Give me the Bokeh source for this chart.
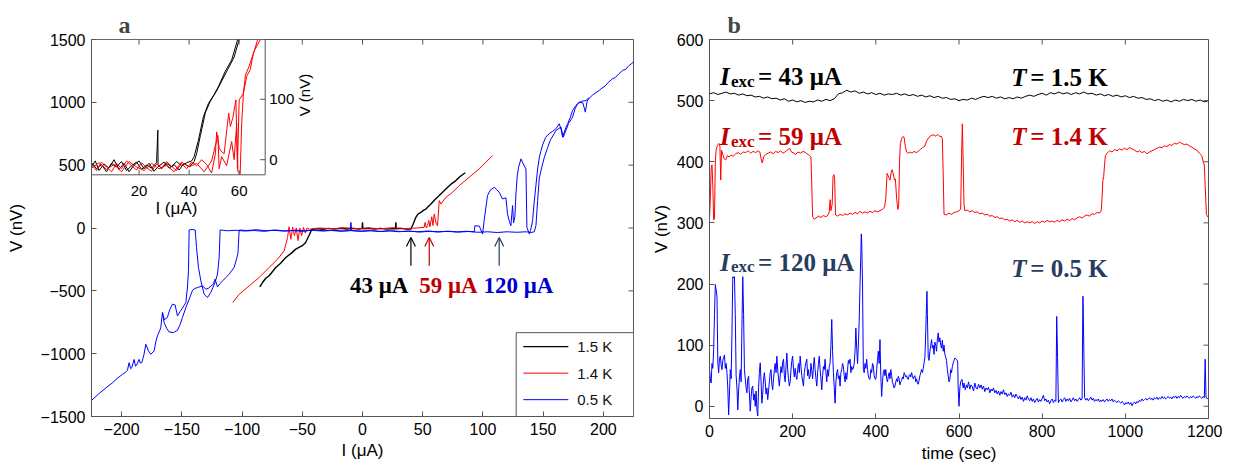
import math
from bokeh.plotting import figure
from bokeh.models import (Range1d, FixedTicker, Arrow, OpenHead, Label)
from bokeh.layouts import row
from bokeh.embed import file_html
from bokeh.resources import INLINE

# ------------------------------------------------------------------
# DATA  panel a : V-I curves (I in uA, V in nV)
# ------------------------------------------------------------------
BLUE1 = [(-225,-1372), (-219,-1320), (-213,-1271), (-208,-1235), (-204,-1200), (-199.3,-1164),
         (-197,-1150), (-195.2,-1133), (-193.8,-1072), (-192.5,-1120), (-191.6,-1112), (-189.6,-1046),
         (-188.5,-1100), (-187.7,-1093), (-185.5,-1046), (-184.5,-1075), (-183.3,-1072), (-181.5,-1010),
         (-179.9,-925), (-177.7,-978), (-175.8,-1005), (-173,-978), (-171.5,-900), (-170.3,-859),
         (-168.5,-820), (-167.5,-793), (-166.1,-673), (-164.5,-730), (-162,-712), (-160,-650),
         (-157.8,-606), (-155.6,-612), (-153.6,-700), (-151.5,-665), (-149.5,-638), (-146.7,-594),
         (-145.3,-470), (-144.5,-340), (-143.9,-16), (-141.5,-12), (-138.9,-16), (-137.8,-154),
         (-136.2,-314), (-134.2,-421), (-131.5,-527), (-128.7,-553), (-126,-514), (-122.4,-434),
         (-120.4,-367), (-119,-234), (-118.2,-16), (-112,-22), (-105,-18), (-98,-24), (-90,-20),
         (-82,-26), (-74,-18), (-66,-24), (-58,-20), (-50,-26), (-42,-18), (-34,-24), (-26,-20),
         (-18,-26), (-10.2,-20), (-9.6,45), (-9,-22), (-2,-26), (6,-20), (14,-28), (22,-22),
         (30,-30), (38,-24), (46,-30), (54,-24), (62,-32), (70,-26), (78,-32), (86,-26),
         (92.8,-30), (93.3,18), (97,15), (99.7,-48), (101,60), (103.8,258), (106,300),
         (109.4,324), (111.5,305), (113.5,284), (116.3,231), (119.1,240), (120.4,112), (122,50),
         (123.2,18), (124.6,178), (125.4,40), (126.5,90), (127.4,271), (128.5,420), (129.6,484),
         (131.6,550), (133.5,510), (135.7,470), (136.5,5), (138.5,-48), (139.5,-20), (141.2,58),
         (142.5,200), (144,340), (145.4,470), (146.8,560), (148,610), (149.5,660), (152,720),
         (155,752), (158,770), (160.6,790), (163.4,829), (165,780), (166.1,723), (168.9,800),
         (170.3,829), (172.5,880), (174.4,935), (176.5,965), (178.6,990), (180,1002), (183,995),
         (185,922), (186.5,1010), (189,1040), (191,1058), (193.5,1075), (196.6,1095), (199,1115),
         (201.5,1130), (204,1158), (207.6,1188), (210,1198), (213,1228), (216,1255), (218.5,1262),
         (221,1290), (223,1305), (225,1321)]

BLUE2 = [(-166.1,-673), (-164.7,-753), (-162.5,-800), (-160.6,-827), (-157,-832), (-153.6,-814),
         (-151.5,-770), (-149.5,-712), (-146.5,-630), (-143.9,-566), (-141.1,-495), (-139,-480),
         (-137,-474), (-132.8,-460), (-130.1,-487), (-127.9,-479), (-124,-447), (-122.4,-407),
         (-120.4,-468), (-118,-440), (-116.2,-421), (-113.5,-395), (-110.7,-367), (-106.6,-314),
         (-104.6,-248), (-103.4,-200), (-102.4,-16), (-96,-20), (-88,-14), (-80,-22), (-72,-16),
         (-64,-24), (-56,-18), (-48,-22), (-40,-16), (-32,-22), (-24,-18), (-16,-24), (-8,-20),
         (0,-26), (8,-22), (16,-28), (24,-22), (32,-28), (40,-26), (48,-32), (56,-26), (64,-30),
         (72,-26), (80,-32), (88,-28), (96,-34), (104,-30), (112,-36), (120,-30), (128,-34),
         (136,-30), (140,-36), (142.6,-30), (144,20), (145.4,218), (146.8,400), (148.5,470),
         (150.9,560), (153.7,640), (156,700), (158.5,740), (160.6,776), (164.8,803), (166.7,723),
         (168.9,776), (171,830), (174.4,882), (176.5,950), (178.6,989), (182,1008), (185.5,1015),
         (188,1036)]

BLACK = [(-85.3,-468), (-83,-434), (-80.3,-400), (-77.5,-380), (-72,-314), (-68,-280), (-63.7,-235),
         (-59,-200), (-55.4,-168), (-50,-141), (-47.2,-115), (-44.4,-60), (-42,-10), (-38,-4),
         (-33,-10), (-28,-3), (-23,-9), (-18,-2), (-13,-8), (-8,-3), (-3,-8), (-0.3,-5), (0,45),
         (0.3,-6), (5,-2), (10,-8), (15,-3), (20,-9), (25,-4), (27.4,-6), (27.7,45), (28,-6),
         (32,-3), (36,-9), (40.2,-8), (42,30), (44.3,85), (46,110), (48.5,124), (50.5,140),
         (52.6,151), (54.5,170), (56.8,191), (60,225), (63.7,258), (66.5,285), (69.2,311),
         (73,345), (77.5,377), (81,410), (85.3,440)]

RED = [(-107.8,-594), (-102.3,-527), (-94,-460), (-85.8,-394), (-77.5,-314), (-70.5,-248),
       (-65,-181), (-62.2,-75), (-61,10), (-59.5,-90), (-58,5), (-56.5,-60), (-55,0), (-53.5,-100),
       (-52,0), (-50.5,-60), (-49,5), (-47.5,-40), (-46,0), (-44,-10), (-35,0), (-25,-6), (-15,2),
       (-5,-4), (5,0), (15,-6), (25,2), (35,-4), (45,0), (51.2,5), (52,45), (53,0), (54,18),
       (55,60), (56,10), (57.5,90), (58.5,20), (59.6,112), (61,40), (62.3,18), (63.7,218),
       (65.1,191), (69.2,244), (74.8,284), (80.3,337), (88.6,404), (96.9,470), (108,577)]

# inset data (I in uA, V in nV)
INSET_BLACK1 = [(1,-5), (3,-15), (5,-8), (7,-20), (9,-6), (11,-12), (13,-3), (15,-18), (17,-10),
                (19,-4), (21,-16), (23,-9), (25,-14), (27,-5), (27.5,49), (27.6,-8), (29,-15),
                (31,-6), (33,-12), (35,-3), (37,-10), (39,-5), (41,-2), (42,5), (43.7,32),
                (45.7,71), (47.7,93), (50,108), (51.7,121), (54.4,146), (57,165), (59.4,199)]
INSET_BLACK2 = [(1,-12), (2.5,-2), (4,-18), (6,-7), (8,-14), (10,0), (12,-16), (14,-6), (16,-20),
                (18,-9), (20,-2), (22,-15), (24,-6), (26,-19), (28,-10), (30,-4), (32,-14), (34,-8),
                (36,-17), (38,-6), (40,-12), (42,-3), (43,10), (44.5,40), (46.5,78), (48.5,97),
                (51,114), (53,130), (55.5,150), (58,170), (60,199)]
INSET_RED1 = [(1,-8), (3,-18), (5,-4), (7,-12), (9,-20), (11,-6), (13,-15), (15,-2), (17,-10),
              (19,-17), (21,-5), (23,-13), (25,-19), (27,-7), (29,-14), (31,-3), (33,-11), (35,-18),
              (37,-6), (39,-15), (41,-4), (43,-10), (45,0), (47,-8), (49,-22), (50.5,10), (51,46),
              (52,20), (52.8,14), (54,10), (55.8,77), (56.5,55), (57.5,70), (58.7,99), (59.3,-15),
              (60,99), (61.7,110), (63,138), (64.4,149), (65.7,176), (67.4,199)]
INSET_RED2 = [(1,-14), (4,-5), (7,-16), (10,-8), (13,-20), (16,-3), (19,-12), (22,-18), (25,-6),
              (28,-15), (31,-9), (34,-20), (37,-4), (40,-12), (43,-6), (46,-20), (49,-2), (51.5,40),
              (52,-15), (53,5), (55,-10), (57,30), (58,0), (59,60), (59.5,-20), (60.4,-24), (61,60),
              (61.7,110), (62.5,140), (64,155), (66,180), (68.5,199)]

INSET_XLIM = (1, 70.4)
INSET_YLIM = (-25, 199)
INSET_XTICKS = [20, 40, 60]
INSET_YTICKS = [0, 100]

LEGEND_LABELS = ["1.5 K", "1.4 K", "0.5 K"]
ARROW_I = [40.2, 55.4, 113.5]
ARROW_TEXT = ["43 μA", "59 μA", "120 μA"]
ARROW_TEXT_I = [13.9, 71.3, 129.5]

# ------------------------------------------------------------------
# DATA  panel b : V vs time (sec)
# ------------------------------------------------------------------
B_BLACK_T = [0, 10, 20, 30, 40, 50, 60, 70, 80, 90, 100, 110, 120, 130, 140, 150, 160, 170, 180,
             190, 200, 210, 220, 230, 240, 250, 260, 270, 280, 290, 300, 310, 320, 330, 340, 350,
             360, 370, 380, 390, 400, 410, 420, 430, 440, 450, 460, 470, 480, 490, 500, 510, 520,
             530, 540, 550, 560, 570, 580, 590, 600, 610, 620, 630, 640, 650, 660, 670, 680, 690,
             700, 710, 720, 730, 740, 750, 760, 770, 780, 790, 800, 810, 820, 830, 840, 850, 860,
             870, 880, 890, 900, 910, 920, 930, 940, 950, 960, 970, 980, 990, 1000, 1010, 1020,
             1030, 1040, 1050, 1060, 1070, 1080, 1090, 1100, 1110, 1120, 1130, 1140, 1150, 1160,
             1170, 1180, 1190, 1200]
B_BLACK_V = [511, 513, 510, 512, 514, 511, 512, 509, 511, 508, 509, 506, 507, 504, 506, 503, 504,
             501, 503, 499, 501, 498, 500, 497, 499, 498, 501, 499, 502, 500, 503, 511, 513, 517,
             514, 516, 512, 514, 511, 513, 510, 512, 509, 511, 510, 512, 509, 511, 508, 510, 507,
             509, 506, 508, 505, 507, 504, 505, 502, 503, 500, 502, 501, 504, 502, 505, 507, 505,
             507, 504, 506, 503, 505, 503, 506, 504, 507, 509, 507, 510, 512, 509, 513, 511, 514,
             511, 513, 510, 513, 511, 514, 511, 512, 509, 511, 508, 510, 507, 509, 506, 508, 505,
             507, 504, 505, 502, 503, 500, 502, 499, 501, 498, 501, 499, 502, 500, 502, 499, 501,
             498, 500]

B_RED = [(0,308), (2,340), (4,390), (6,395), (8,360), (10,305), (12,308), (14,400), (16,419),
         (18,425), (20,428), (23,430), (25,425), (27,370), (29,419), (32,412), (35,405), (39,403),
         (43,410), (47,408), (52,411), (57,409), (63,413), (69,415), (75,412), (81,416), (87,415),
         (93,418), (99,414), (105,417), (111,415), (117,418), (121,416), (124,405), (127,398),
         (130,408), (135,412), (141,414), (147,416), (153,413), (159,417), (165,415), (171,418),
         (177,414), (183,417), (189,420), (193,422), (197,416), (203,414), (207,412), (213,416),
         (219,414), (225,417), (231,415), (237,412), (241,410), (244,408), (246,360), (248,310),
         (252,306), (256,308), (262,311), (268,309), (274,312), (280,310), (285,313), (288,318),
         (290,338), (292,320), (295,330), (297,375), (299,379), (301,372), (303,313), (308,311),
         (314,314), (320,312), (326,315), (332,313), (338,316), (344,314), (350,317), (356,315),
         (362,319), (368,316), (374,318), (380,316), (386,319), (392,317), (398,320), (404,318),
         (410,320), (416,322), (421,326), (424,340), (427,381), (431,375), (434,370), (437,383),
         (439,387), (442,380), (445,370), (447,372), (450,340), (453,322), (455,330), (457,400),
         (459,430), (462,438), (465,441), (468,440), (471,425), (474,416), (478,414), (482,416),
         (487,414), (492,417), (497,415), (502,417), (507,420), (512,423), (518,426), (523,435),
         (528,440), (533,443), (539,444), (544,442), (549,445), (554,441), (557,442), (560,438),
         (562,380), (564,314), (570,313), (576,316), (582,314), (588,317), (594,318), (600,320),
         (604,322), (606,400), (608,462), (610,400), (612,330), (614,320), (620,321), (626,318),
         (632,320), (638,317), (644,318), (650,315), (656,316), (662,313), (668,314), (674,311),
         (680,312), (686,309), (692,310), (698,307), (704,308), (710,305), (716,306), (722,303),
         (728,305), (734,302), (740,304), (746,301), (752,303), (758,300), (764,302), (770,300),
         (776,302), (782,299), (788,302), (794,300), (800,303), (806,301), (812,304), (818,302),
         (824,303), (830,301), (836,304), (842,302), (848,305), (854,303), (860,306), (866,304),
         (872,307), (878,305), (884,308), (890,310), (896,308), (902,311), (908,313), (914,311),
         (920,315), (926,314), (932,317), (938,316), (942,320), (944,340), (946,370), (948,376),
         (950,395), (952,410), (956,414), (962,418), (968,416), (974,420), (980,418), (986,421),
         (992,419), (998,422), (1004,420), (1010,423), (1016,421), (1022,419), (1028,416),
         (1034,418), (1040,415), (1046,417), (1052,413), (1058,416), (1064,418), (1070,420),
         (1076,422), (1082,424), (1088,423), (1094,426), (1100,425), (1106,428), (1112,427),
         (1118,430), (1124,429), (1130,432), (1136,430), (1142,428), (1148,429), (1154,426),
         (1160,424), (1166,421), (1172,419), (1178,414), (1184,410), (1188,398), (1190,395),
         (1192,360), (1195,314), (1198,310), (1200,312)]

B_BLUE = [(0,60), (2,45), (4,38), (6,70), (8,62), (10,93), (12,150), (14,199), (16,190), (18,180),
          (20,71), (22,55), (24,78), (26,82), (28,68), (30,60), (32,75), (34,80), (36,84), (38,62),
          (40,70), (42,55), (44,30), (46,-14), (48,20), (50,60), (52,45), (54,120), (56,212),
          (58,210), (60,212), (62,150), (64,50), (66,30), (68,-6), (70,25), (72,48), (74,60),
          (76,40), (78,130), (80,212), (82,150), (84,60), (86,45), (88,30), (90,22), (92,45),
          (94,49), (96,20), (98,-8), (100,15), (102,30), (104,33), (106,10), (108,20), (110,0),
          (112,25), (114,-5), (116,-16), (118,30), (120,55), (122,71), (124,40), (126,5), (128,20),
          (130,45), (132,55), (134,40), (136,20), (138,30), (140,11), (142,25), (144,40), (146,55),
          (148,60), (150,35), (152,27), (154,45), (156,60), (158,70), (160,55), (162,82), (164,60),
          (166,45), (168,33), (170,50), (172,65), (174,55), (176,72), (178,77), (180,50), (182,40),
          (184,65), (186,87), (188,60), (190,45), (192,33), (194,40), (196,60), (198,75), (200,82),
          (202,60), (204,48), (206,62), (208,50), (210,44), (212,60), (214,70), (216,55), (218,82),
          (220,65), (222,50), (224,40), (226,33), (228,55), (230,65), (232,72), (234,77), (236,50),
          (238,60), (240,45), (242,49), (244,70), (246,58), (248,45), (250,66), (252,80), (254,60),
          (256,45), (258,33), (260,55), (262,70), (264,82), (266,60), (268,45), (270,27), (272,50),
          (274,65), (276,60), (278,77), (280,55), (282,40), (284,60), (286,49), (288,65), (290,70),
          (292,100), (294,142), (296,90), (298,55), (300,30), (302,5), (304,40), (306,55), (308,60),
          (310,45), (312,50), (314,33), (316,55), (318,60), (320,70), (322,65), (324,50), (326,40),
          (328,55), (330,44), (332,60), (334,75), (336,70), (338,77), (340,55), (342,65), (344,60),
          (346,62), (348,70), (350,90), (352,128), (354,95), (356,70), (358,100), (360,140),
          (362,200), (364,250), (365,282), (366,270), (368,200), (370,60), (372,55), (374,70),
          (376,62), (378,77), (380,60), (382,50), (384,45), (386,44), (388,60), (390,55), (392,70),
          (394,66), (396,50), (398,45), (400,44), (402,60), (404,75), (406,90), (408,70), (410,109),
          (412,50), (414,16), (416,40), (418,55), (420,60), (422,50), (424,60), (426,45), (428,40),
          (430,49), (432,55), (434,45), (436,60), (438,50), (440,40), (442,35), (444,30), (446,33),
          (448,40), (450,45), (452,40), (454,49), (456,45), (458,35), (460,40), (462,42), (464,48),
          (466,45), (468,55), (470,52), (472,48), (474,50), (476,45), (478,44), (480,50), (482,52),
          (484,48), (486,55), (488,50), (490,45), (492,48), (494,50), (496,40), (498,45), (500,38),
          (502,36), (504,42), (506,50), (508,55), (510,60), (512,55), (514,62), (516,71), (518,80),
          (520,120), (522,170), (523,188), (524,150), (526,80), (528,75), (530,90), (532,100),
          (534,109), (536,95), (538,100), (540,85), (542,105), (544,100), (546,90), (548,110),
          (550,120), (552,105), (554,112), (556,100), (558,95), (560,108), (562,90), (564,100),
          (566,85), (568,80), (570,75), (572,60), (574,50), (576,40), (578,44), (580,60), (582,55),
          (584,65), (586,71), (588,75), (590,79), (592,78), (594,76), (596,75), (597,70), (598,30),
          (600,0), (602,30), (604,40), (607,44), (610,30), (612,38), (615,27), (618,35), (620,30),
          (623,40), (626,28), (629,35), (632,32), (635,25), (638,38), (641,30), (644,28), (647,36),
          (650,30), (653,35), (656,28), (659,33), (662,24), (665,30), (668,27), (671,31), (674,22),
          (677,28), (680,25), (683,30), (686,22), (689,26), (692,20), (695,25), (698,18), (701,24),
          (704,20), (707,27), (710,19), (713,22), (716,16), (719,20), (722,18), (725,23), (728,15),
          (731,19), (734,14), (737,20), (740,16), (743,12), (746,17), (749,11), (752,15), (755,8),
          (758,14), (761,10), (764,17), (767,12), (770,9), (773,14), (776,8), (779,12), (782,6),
          (785,10), (788,13), (791,7), (794,11), (797,8), (800,13), (803,18), (806,9), (809,12),
          (812,7), (815,10), (818,4), (821,9), (824,12), (827,6), (830,10), (833,8), (835,147),
          (837,80), (839,6), (842,10), (845,12), (848,7), (851,11), (854,14), (857,8), (860,12),
          (863,9), (866,13), (869,7), (872,10), (875,14), (878,9), (881,12), (884,8), (887,11),
          (890,14), (893,10), (896,12), (898,180), (899,150), (900,100), (902,14), (905,10),
          (908,13), (911,9), (914,12), (917,15), (920,10), (923,13), (926,8), (929,11), (932,9),
          (935,12), (938,7), (941,10), (944,8), (947,11), (950,7), (953,10), (956,12), (959,8),
          (962,11), (965,9), (968,12), (971,7), (974,10), (977,8), (980,6), (983,9), (986,7),
          (989,5), (992,8), (995,6), (998,2), (1001,6), (1004,4), (1007,7), (1010,3), (1013,6),
          (1016,1), (1019,5), (1022,7), (1025,4), (1028,8), (1031,6), (1034,10), (1037,8),
          (1040,12), (1043,9), (1046,11), (1049,13), (1052,10), (1055,12), (1058,14), (1061,11),
          (1064,13), (1067,10), (1070,14), (1073,12), (1076,15), (1079,11), (1082,14), (1085,12),
          (1088,16), (1091,13), (1094,15), (1097,12), (1100,14), (1103,16), (1106,13), (1109,15),
          (1112,12), (1115,16), (1118,14), (1121,17), (1124,13), (1127,16), (1130,14), (1133,18),
          (1136,15), (1139,13), (1142,16), (1145,14), (1148,17), (1151,15), (1154,13), (1157,16),
          (1160,14), (1163,17), (1166,15), (1169,13), (1172,16), (1175,14), (1178,17), (1181,15),
          (1184,13), (1187,16), (1190,14), (1192,77), (1194,15), (1197,12), (1200,14)]

B_CURRENTS = ["43 μA", "59 μA", "120 μA"]
B_TEMPS = ["1.5 K", "1.4 K", "0.5 K"]

A_XTICKS = [-200, -150, -100, -50, 0, 50, 100, 150, 200]
A_YTICKS = [-1500, -1000, -500, 0, 500, 1000, 1500]
B_XTICKS = [0, 200, 400, 600, 800, 1000, 1200]
B_YTICKS = [0, 100, 200, 300, 400, 500, 600]

# ------------------------------------------------------------------
SANS = "Liberation Sans"
SERIF = "Liberation Serif"
AX = "#555555"
BLACK_C, RED_C, BLUE_C = "#000000", "#ff0000", "#0000ff"
DARKRED, NAVY, ABLUE = "#c00000", "#283c5f", "#0000cc"
TICK_PX = 5


def xs(pts):
    return [a for a, _ in pts]


def ys(pts):
    return [b for _, b in pts]


def base_fig(xr, yr, fw, fh, bl, br, bt, bb, letter, letter_off):
    p = figure(x_range=Range1d(*xr), y_range=Range1d(*yr), frame_width=fw, frame_height=fh,
               min_border_left=bl, min_border_right=br, min_border_top=bt, min_border_bottom=bb,
               output_backend="svg", toolbar_location=None)
    p.grid.visible = False
    p.outline_line_color = AX
    p.outline_line_width = 1
    p.background_fill_color = "white"
    p.border_fill_color = "white"
    p.title.text = letter
    p.title.text_font = SERIF
    p.title.text_font_size = "24px"
    p.title.text_font_style = "bold"
    p.title.align = "left"
    p.title.offset = letter_off
    p.title.standoff = 4
    return p


def style_axes(p, xt, yt, xlabel, ylabel, xstand, ystand):
    for ax, t, lbl, st in ((p.xaxis[0], xt, xlabel, xstand), (p.yaxis[0], yt, ylabel, ystand)):
        ax.ticker = FixedTicker(ticks=t)
        ax.major_tick_in = TICK_PX
        ax.major_tick_out = 0
        ax.minor_tick_line_color = None
        ax.axis_line_color = AX
        ax.major_tick_line_color = AX
        ax.major_label_text_font = SANS
        ax.major_label_text_font_size = "16px"
        ax.major_label_text_color = "black"
        ax.major_label_standoff = 6
        ax.axis_label = lbl
        ax.axis_label_text_font = SANS
        ax.axis_label_text_font_size = "17px"
        ax.axis_label_text_font_style = "normal"
        ax.axis_label_text_color = "black"
        ax.axis_label_standoff = st


def box_ticks(p, xt, yt):
    # mirrored (box) ticks on top and right edges, drawn through the data scales
    xr, yr = p.x_range, p.y_range
    dy = (yr.end - yr.start) / p.frame_height * TICK_PX
    dx = (xr.end - xr.start) / p.frame_width * TICK_PX
    p.segment(x0=xt, x1=xt, y0=[yr.end] * len(xt), y1=[yr.end - dy] * len(xt), line_color=AX)
    p.segment(x0=[xr.end] * len(yt), x1=[xr.end - dx] * len(yt), y0=yt, y1=yt, line_color=AX)


def lab(p, x, y, text, size, color="black", font=SANS, style="normal", align="center",
        baseline="middle", angle=0.0, x_offset=0, **kw):
    p.add_layout(Label(x=x, y=y, text=text, text_font=font, text_font_size=size,
                       text_font_style=style, text_color=color, text_align=align,
                       text_baseline=baseline, angle=angle, x_offset=x_offset, **kw))


# ------------------------------- panel a ---------------------------
pa = base_fig((-225, 225), (-1500, 1500), 542, 377, 91, 8, 38, 38, "a", 27)
style_axes(pa, A_XTICKS, A_YTICKS, "I (μA)", "V (nV)", 3, 12)
box_ticks(pa, A_XTICKS, A_YTICKS)

pa.line(xs(BLACK), ys(BLACK), line_color=BLACK_C, line_width=1.4)
pa.line(xs(RED), ys(RED), line_color=RED_C, line_width=1.0)
pa.line(xs(BLUE1), ys(BLUE1), line_color=BLUE_C, line_width=1.0)
pa.line(xs(BLUE2), ys(BLUE2), line_color=BLUE_C, line_width=1.0)

# arrows + current labels
for xi, c in zip(ARROW_I, [BLACK_C, DARKRED, NAVY]):
    pa.add_layout(Arrow(end=OpenHead(size=9, line_color=c, line_width=1.2),
                        x_start=xi, y_start=-300, x_end=xi, y_end=-75,
                        line_color=c, line_width=1.2))
for xi, t, c in zip(ARROW_TEXT_I, ARROW_TEXT, [BLACK_C, DARKRED, ABLUE]):
    lab(pa, xi, -460, t, "23px", color=c, font=SERIF, style="bold")

# legend box (bottom-right corner of the frame), drawn with glyphs
leg_rows = [-944, -1155, -1366]
pa.quad(left=127.6, right=225, bottom=-1500, top=-833, fill_color="white",
        line_color=AX, line_width=1)
pa.segment(x0=[133.5] * 3, x1=[170.9] * 3, y0=leg_rows, y1=leg_rows,
           line_color=[BLACK_C, RED_C, BLUE_C], line_width=[1.4, 1.0, 1.0])
pa.text(x=[178.3] * 3, y=leg_rows, text=LEGEND_LABELS, text_font={"value": SANS},
        text_font_size="15px", text_align="left", text_baseline="middle", text_color="#111111")

# inset via extra ranges mapped so that the inset box sits in the top-left corner
FX, FY = (266.7 - 93) / 542, (174.3 - 39) / 377
pa.extra_x_ranges = {"ix": Range1d(INSET_XLIM[0],
                                   INSET_XLIM[0] + (INSET_XLIM[1] - INSET_XLIM[0]) / FX)}
pa.extra_y_ranges = {"iy": Range1d(INSET_YLIM[1] - (INSET_YLIM[1] - INSET_YLIM[0]) / FY,
                                   INSET_YLIM[1])}
IR = dict(x_range_name="ix", y_range_name="iy")
pa.quad(left=INSET_XLIM[0], right=INSET_XLIM[1], bottom=INSET_YLIM[0], top=INSET_YLIM[1],
        fill_color="white", line_color=AX, line_width=1, **IR)
for pts, c in ((INSET_BLACK1, BLACK_C), (INSET_BLACK2, BLACK_C),
               (INSET_RED1, RED_C), (INSET_RED2, RED_C)):
    pa.line(xs(pts), ys(pts), line_color=c, line_width=1, **IR)
# inset ticks (5 px long)
tx = (INSET_XLIM[1] - INSET_XLIM[0]) / (FX * 542) * TICK_PX
ty = (INSET_YLIM[1] - INSET_YLIM[0]) / (FY * 377) * TICK_PX
nx, ny = len(INSET_XTICKS), len(INSET_YTICKS)
pa.segment(x0=INSET_XTICKS, x1=INSET_XTICKS, y0=[INSET_YLIM[0]] * nx,
           y1=[INSET_YLIM[0] + ty] * nx, line_color=AX, **IR)
pa.segment(x0=INSET_XTICKS, x1=INSET_XTICKS, y0=[INSET_YLIM[1]] * nx,
           y1=[INSET_YLIM[1] - ty] * nx, line_color=AX, **IR)
pa.segment(x0=[INSET_XLIM[1]] * ny, x1=[INSET_XLIM[1] - tx] * ny, y0=INSET_YTICKS,
           y1=INSET_YTICKS, line_color=AX, **IR)
pa.text(x=INSET_XTICKS, y=[INSET_YLIM[0] - 3.2 * ty] * nx,
        text=[str(v) for v in INSET_XTICKS], text_font={"value": SANS},
        text_font_size="15px", text_align="center", text_baseline="middle", **IR)
pa.text(x=[INSET_XLIM[1]] * ny, y=INSET_YTICKS, x_offset=4,
        text=[str(v) for v in INSET_YTICKS], text_font={"value": SANS},
        text_font_size="15px", text_align="left", text_baseline="middle", **IR)
lab(pa, 34.9, -81, "I (μA)", "17px", **IR)
lab(pa, 86, 107, "V (nV)", "15px", angle=math.pi / 2, **IR)

# ------------------------------- panel b ---------------------------
pb = base_fig((0, 1200), (-20, 600), 499, 379, 68, 14, 39, 34, "b", 18)
style_axes(pb, B_XTICKS, B_YTICKS, "time (sec)", "V (nV)", 4, 3)
pb.line(B_BLACK_T, B_BLACK_V, line_color=BLACK_C, line_width=1)
pb.line(xs(B_RED), ys(B_RED), line_color=RED_C, line_width=1)
pb.line(xs(B_BLUE), ys(B_BLUE), line_color=BLUE_C, line_width=1)
box_ticks(pb, B_XTICKS, B_YTICKS)

for cur, temp, c, yb, yt in zip(B_CURRENTS, B_TEMPS, [BLACK_C, DARKRED, NAVY],
                                 [539, 441, 236], [538, 442, 226]):
    lab(pb, 25, yb, "I", "25px", color=c, font=SERIF, style="bold italic", align="left",
        baseline="alphabetic")
    lab(pb, 25, yb - 8, "exc", "17px", color=c, font=SERIF, style="bold", align="left",
        baseline="alphabetic", x_offset=11)
    lab(pb, 25, yb, "= " + cur, "25px", color=c, font=SERIF, style="bold", align="left",
        baseline="alphabetic", x_offset=38)
    lab(pb, 725.6, yt, "T", "25px", color=c, font=SERIF, style="bold italic", align="left",
        baseline="alphabetic")
    lab(pb, 725.6, yt, "= " + temp, "25px", color=c, font=SERIF, style="bold", align="left",
        baseline="alphabetic", x_offset=19)

layout = row(pa, pb)
open("out.html", "w").write(file_html(layout, INLINE))
